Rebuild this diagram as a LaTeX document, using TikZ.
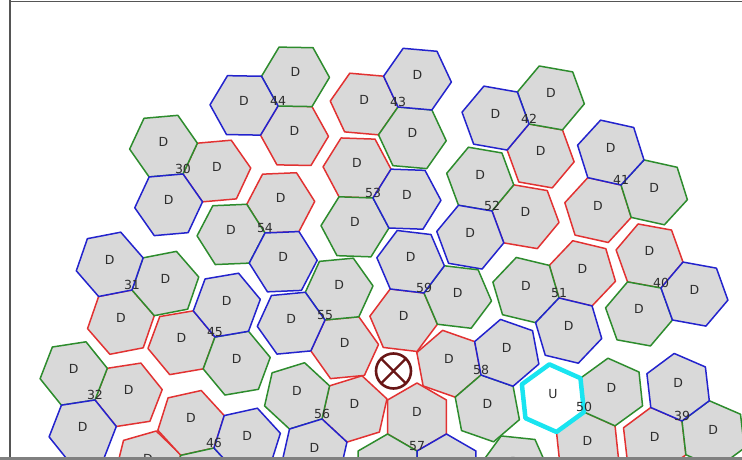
\documentclass[tikz,border=0pt]{standalone}
\usepackage{fontspec}
\setmainfont{DejaVu Sans}
\definecolor{cellfill}{RGB}{217,217,217}
\definecolor{secred}{RGB}{226,50,50}
\definecolor{secgreen}{RGB}{45,140,45}
\definecolor{secblue}{RGB}{35,35,205}
\definecolor{ucyan}{RGB}{25,228,240}
\definecolor{markred}{RGB}{105,22,22}
\definecolor{framegray}{RGB}{85,85,85}
\definecolor{labelgray}{RGB}{45,45,45}
% x / y (from the top) / turn / site
\newcommand{\sitelist}{%
183/174/5/30, 278/106/-61/44, 398/107/175/43, 529/124/-70/42, 621/185/-132.5/41,
373/198/118/53, 492/211/-9.7/52, 265/233/62.4/54, 132/290/251/31, 215/337/189.7/45,
325/320/-54.6/55, 424/293/233.2/59, 559/298/46.5/51, 661/288/109.7/40, 95/400/8.8/32,
481/375/160.7/58, 322/419/17.2/56, 584/412/-84/50, 682/421/216.6/39, 417/451/90/57,
214/448/132.5/46}

\begin{document}
\begin{tikzpicture}[x=1pt, y=1pt,
  cell/.style={line width=1.5pt, line join=round},
  cellname/.style={anchor=base, inner sep=0pt, text=labelgray, font=\fontsize{12.5}{15}\selectfont},
  marker/.style={circle, draw=markred, fill=white, line width=2.6pt, minimum size=35pt, inner sep=0pt, outer sep=0pt}]
  \useasboundingbox (0,0) rectangle (742,460);
  \begin{scope}
    \clip (10.5,3) rectangle (742,460);
    % cells of sites under the frame
    \coordinate (p1) at (148,-4);
    \filldraw[cell, draw=secred, fill=cellfill, shift={(p1)}] (16:34) -- (76:34) -- (136:34) -- (196:34) -- (256:34) -- (316:34) -- cycle;
    \node[cellname] (dp1) at (p1) {D};
    \coordinate (p2) at (515,-7);
    \filldraw[cell, draw=secgreen, fill=cellfill, shift={(p2)}] (-6:34) -- (54:34) -- (114:34) -- (174:34) -- (234:34) -- (294:34) -- cycle;
    \node[cellname] (dp2) at (p2) {D};

    \foreach \sx/\sy/\tilt/\sid in \sitelist {
      \coordinate (s\sid) at (\sx,460-\sy);
      \foreach \k/\col in {0/secred,1/secgreen,2/secblue} {
        \path (s\sid) ++(\tilt+120*\k:34) coordinate (h\sid-\k);
        \ifnum\sid\k=502
          \def\col{ucyan}\def\fil{white}\def\lw{4.5pt}\def\txt{U}
        \else
          \def\fil{cellfill}\def\lw{1.5pt}\def\txt{D}
        \fi
        \filldraw[cell, draw=\col, fill=\fil, line width=\lw, shift={(h\sid-\k)}]
          (\tilt:34) -- (\tilt+60:34) -- (\tilt+120:34) -- (\tilt+180:34) -- (\tilt+240:34) -- (\tilt+300:34) -- cycle;
        \node[cellname] (d\sid-\k) at (h\sid-\k) {\txt};
      }
    }

    \node[marker] (target) at (393.5,89) {};
    \draw[markred, line width=2.2pt] (target.45) -- (target.225) (target.135) -- (target.315);

    \foreach \sx/\sy/\tilt/\sid in \sitelist {
      \node[cellname] (n\sid) at (s\sid) {\sid};
    }
  \end{scope}

  \draw[framegray, line width=2pt] (9.7,0) -- (9.7,460);
  \draw[framegray, line width=1.4pt] (9.7,458.3) -- (742,458.3);
  \draw[framegray!75, line width=3pt] (0,1.5) -- (742,1.5);
\end{tikzpicture}
\end{document}
